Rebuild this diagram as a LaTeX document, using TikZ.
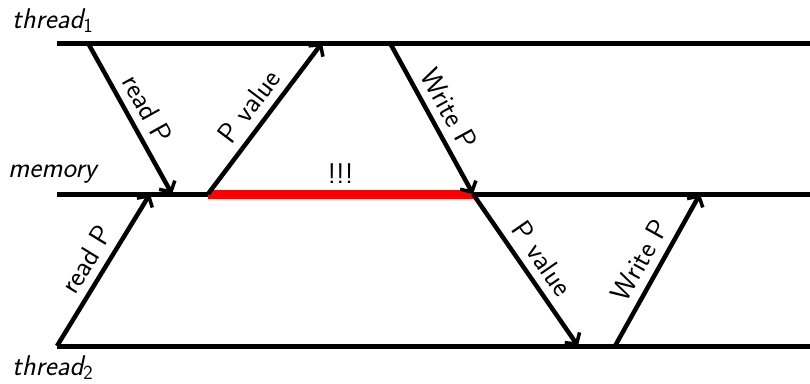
\documentclass[tikz,border=0pt]{standalone}
\usepackage{fontspec}
\usetikzlibrary{arrows.meta}
\begin{document}
\begin{tikzpicture}[x=1pt,y=-1pt,
  every node/.style={font=\sffamily\fontsize{28.5}{32}\selectfont},
  timeline/.style={line width=5pt},
  msg/.style={line width=4.5pt,-{Straight Barb[length=8pt,width=18pt,line width=3.5pt]}},
  msglabel/.style={above,sloped,inner sep=8pt,pos=0.5},
  lane/.style={anchor=base west,inner sep=0pt,font=\sffamily\itshape\fontsize{28.5}{32}\selectfont},
  conflict/.style={line width=9pt,red}]
\useasboundingbox (0,0) rectangle (810,383);
% timelines
\coordinate (t1s) at (57,43);  \coordinate (t1e) at (810,43);
\coordinate (ms)  at (57,194); \coordinate (me)  at (810,194);
\coordinate (t2s) at (57,346); \coordinate (t2e) at (810,346);
\draw[timeline] (t1s) -- (t1e);
\draw[timeline] (ms) -- (me);
\draw[timeline] (t2s) -- (t2e);
% lane labels
\node[lane] (l1) at (12,28) {thread\textsubscript{\upshape 1}};
\node[lane] (lm) at (8,177) {memory};
\node[lane] (l2) at (12,375) {thread\textsubscript{\upshape 2}};
% event points
\coordinate (a1s) at (88,43);   \coordinate (a1e) at (172,194);
\coordinate (a2s) at (208,194); \coordinate (a2e) at (322,43);
\coordinate (a3s) at (390,43);  \coordinate (a3e) at (473,194);
\coordinate (a4s) at (57,346);  \coordinate (a4e) at (150,194);
\coordinate (a5s) at (473,194); \coordinate (a5e) at (578,346);
\coordinate (a6s) at (615,346); \coordinate (a6e) at (700,194);
% conflict
\draw[conflict] (a2s) -- node[above=3pt,text=black] (bang) {!!!} (a3e);
% messages
\draw[msg] (a1s) -- node[msglabel] (la1) {read P} (a1e);
\draw[msg] (a2s) -- node[msglabel] (la2) {P value} (a2e);
\draw[msg] (a3s) -- node[msglabel] (la3) {Write P} (a3e);
\draw[msg] (a4s) -- node[msglabel] (la4) {read P} (a4e);
\draw[msg] (a5s) -- node[msglabel] (la5) {P value} (a5e);
\draw[msg] (a6s) -- node[msglabel] (la6) {Write P} (a6e);
\end{tikzpicture}
\end{document}
